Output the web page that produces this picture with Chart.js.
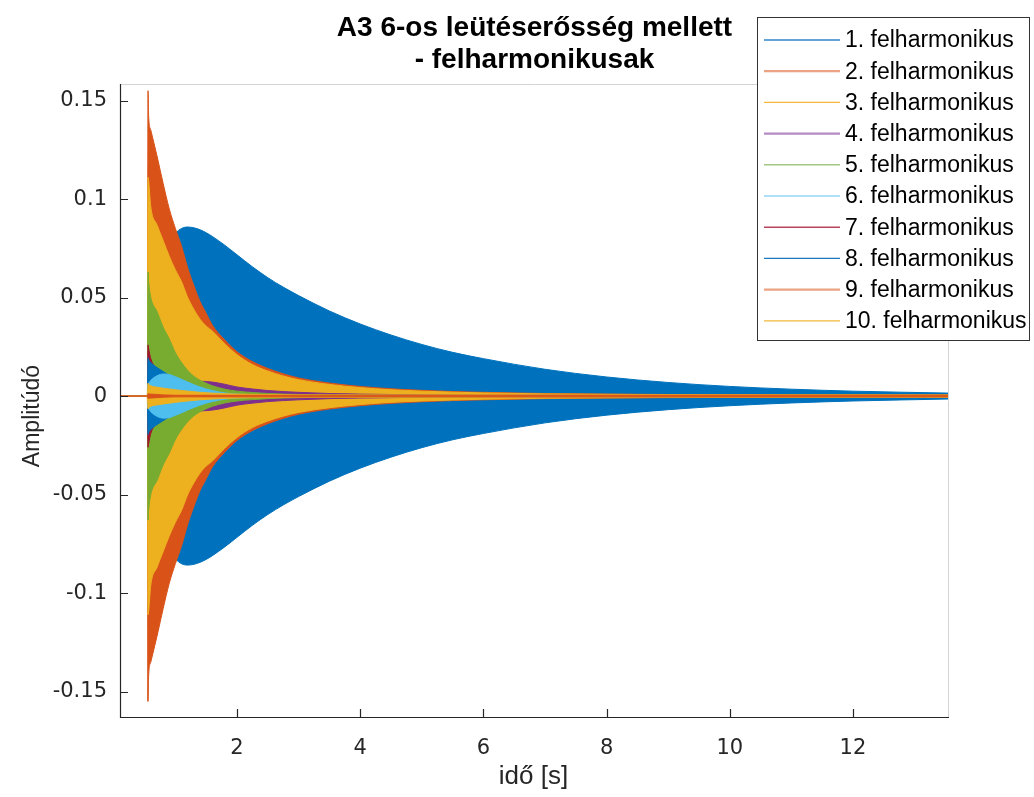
<!DOCTYPE html>
<html><head><meta charset="utf-8">
<script src="https://cdn.jsdelivr.net/npm/chart.js@4.4.1/dist/chart.umd.min.js"></script>
<style>html,body{margin:0;padding:0;background:#fff;overflow:hidden}canvas{display:block}</style>
</head><body>
<canvas id="c" width="1034" height="797"></canvas>
<script>
// time samples (s)
const timeS = [0.1, 0.545, 0.555, 0.565, 0.6, 0.7, 0.8, 0.9, 1.0, 1.1, 1.2, 1.3, 1.4, 1.5, 1.6, 1.8, 2.0, 2.25, 2.5, 2.75, 3.0, 3.5, 4.0, 4.5, 5.0, 5.5, 6.0, 7.0, 8.0, 9.0, 10.0, 11.0, 12.0, 13.56];
// envelope amplitudes of each harmonic
const amp1  = [0, 0, 0.012, 0.016, 0.03, 0.05, 0.066, 0.077, 0.0825, 0.0851, 0.0858, 0.0854, 0.0844, 0.0829, 0.081, 0.0766, 0.0717, 0.0656, 0.0601, 0.0553, 0.051, 0.0432, 0.0366, 0.031, 0.0262, 0.0222, 0.019, 0.0136, 0.0097, 0.0069, 0.0049, 0.0035, 0.0025, 0.0015];
const amp2  = [0, 0, 0.155, 0.142, 0.135, 0.122, 0.108, 0.095, 0.085, 0.076, 0.065, 0.056, 0.048, 0.042, 0.036, 0.0285, 0.0225, 0.0175, 0.014, 0.0113, 0.0092, 0.0066, 0.0049, 0.0037, 0.0029, 0.0023, 0.0019, 0.0013, 0.001, 0.0008, 0.0007, 0.0006, 0.0006, 0.0005];
const amp3  = [0, 0, 0.111, 0.109, 0.096, 0.087, 0.079, 0.071, 0.064, 0.058, 0.05, 0.044, 0.039, 0.0355, 0.033, 0.0265, 0.021, 0.016, 0.0127, 0.0102, 0.0083, 0.0059, 0.0043, 0.0032, 0.0025, 0.002, 0.0016, 0.0011, 0.0009, 0.0007, 0.0006, 0.0005, 0.0005, 0.0004];
const amp4  = [0, 0, 0.002, 0.0025, 0.003, 0.004, 0.0048, 0.0055, 0.006, 0.0065, 0.0069, 0.0072, 0.0075, 0.0074, 0.0071, 0.006, 0.0046, 0.0036, 0.0028, 0.0023, 0.0019, 0.0013, 0.001, 0.0008, 0.0006, 0.0005, 0.0004, 0.0004, 0.0003, 0.0003, 0.0003, 0.0003, 0.0003, 0.0003];
const amp5  = [0, 0, 0.063, 0.058, 0.05, 0.043, 0.035, 0.029, 0.022, 0.017, 0.013, 0.01, 0.008, 0.0065, 0.0052, 0.0035, 0.0025, 0.0018, 0.0013, 0.001, 0.0008, 0.0006, 0.0005, 0.0004, 0.0003, 0.0003, 0.0003, 0.0003, 0.0003, 0.0003, 0.0003, 0.0003, 0.0003, 0.0003];
const amp6  = [0, 0, 0.006, 0.0065, 0.008, 0.0103, 0.0112, 0.011, 0.0098, 0.0085, 0.0071, 0.0058, 0.0046, 0.0036, 0.0028, 0.0016, 0.001, 0.0007, 0.0005, 0.0004, 0.0003, 0.0003, 0.0003, 0.0003, 0.0003, 0.0003, 0.0003, 0.0003, 0.0003, 0.0003, 0.0003, 0.0003, 0.0003, 0.0003];
const amp7  = [0, 0, 0.026, 0.024, 0.019, 0.013, 0.009, 0.006, 0.0042, 0.003, 0.0022, 0.0017, 0.0013, 0.001, 0.0008, 0.0006, 0.0005, 0.0004, 0.0003, 0.0003, 0.0003, 0.0003, 0.0003, 0.0003, 0.0003, 0.0003, 0.0003, 0.0003, 0.0003, 0.0003, 0.0003, 0.0003, 0.0003, 0.0003];
const amp8  = [0, 0, 0.0195, 0.0185, 0.017, 0.0145, 0.0125, 0.0105, 0.0085, 0.0065, 0.005, 0.0038, 0.0028, 0.0021, 0.0016, 0.001, 0.0007, 0.0005, 0.0004, 0.0003, 0.0003, 0.0003, 0.0003, 0.0003, 0.0003, 0.0003, 0.0003, 0.0003, 0.0003, 0.0003, 0.0003, 0.0003, 0.0003, 0.0003];
const amp9  = [0, 0, 0.0012, 0.0011, 0.001, 0.0008, 0.0006, 0.0005, 0.0004, 0.0004, 0.0004, 0.0004, 0.0004, 0.0004, 0.0004, 0.0004, 0.0004, 0.0004, 0.0004, 0.0004, 0.0004, 0.0004, 0.0004, 0.0004, 0.0004, 0.0004, 0.0004, 0.0004, 0.0004, 0.0004, 0.0004, 0.0004, 0.0004, 0.0004];
const amp10 = [0, 0, 0.0065, 0.006, 0.0052, 0.0045, 0.004, 0.0036, 0.0032, 0.0028, 0.0025, 0.0022, 0.0019, 0.0017, 0.0015, 0.0012, 0.001, 0.0009, 0.0008, 0.0007, 0.0006, 0.0006, 0.0006, 0.0006, 0.0006, 0.0006, 0.0006, 0.0006, 0.0006, 0.0006, 0.0006, 0.0006, 0.0006, 0.0006];

const seriesLabels = ['1. felharmonikus','2. felharmonikus','3. felharmonikus','4. felharmonikus','5. felharmonikus','6. felharmonikus','7. felharmonikus','8. felharmonikus','9. felharmonikus','10. felharmonikus'];
const seriesColors = ['#0072BD','#D95319','#EDB120','#7E2F8E','#77AC30','#4DBEEE','#A2142F','#0072BD','#D95319','#EDB120'];
const legendLineColors = ['#2F86C8','#EBA383','#F2BA38','#B48BC3','#A2C884','#95D6F4','#B8455C','#1B78BF','#EBA383','#F2BA38'];
const legendLineWidths = [1.3, 2.2, 1.3, 2.2, 1.6, 1.6, 1.6, 1.3, 2.2, 1.3];
const drawOrder = [1,2,3,4,5,7,8,6,10,9]; // bottom -> top

const xTickValues = [2,4,6,8,10,12];
const yTickValues = [-0.15,-0.1,-0.05,0,0.05,0.1,0.15];
const yTickLabels = ['-0.15','-0.1','-0.05','0','0.05','0.1','0.15'];
const titleLines = ['A3 6-os leütéserősség mellett','- felharmonikusak'];
const xTitle = 'idő [s]';
const yTitle = 'Amplitúdó';

const amps = [amp1,amp2,amp3,amp4,amp5,amp6,amp7,amp8,amp9,amp10];

const datasets = [];
drawOrder.slice().reverse().forEach(k => {
  const a = amps[k-1], col = seriesColors[k-1];
  const common = {borderColor: col, backgroundColor: col, borderWidth: 1, pointRadius: 0,
                  cubicInterpolationMode: 'monotone'};
  datasets.push(Object.assign({label: seriesLabels[k-1], data: timeS.map((t,i)=>({x:t, y:a[i]})), fill: '+1'}, common));
  datasets.push(Object.assign({label: seriesLabels[k-1] + ' (-)', data: timeS.map((t,i)=>({x:t, y:-a[i]})), fill: false}, common));
});

const decor = {
  id: 'decor',
  afterDraw(chart) {
    const ctx = chart.ctx, ca = chart.chartArea;
    const xs = chart.scales.x, ys = chart.scales.y;
    ctx.save();
    // box (top/right light)
    ctx.strokeStyle = '#d4d4d4'; ctx.lineWidth = 1;
    ctx.beginPath();
    ctx.moveTo(ca.left, Math.round(ca.top)+0.5); ctx.lineTo(ca.right, Math.round(ca.top)+0.5);
    ctx.moveTo(Math.round(ca.right)-0.5, ca.top); ctx.lineTo(Math.round(ca.right)-0.5, ca.bottom);
    ctx.stroke();
    // left & bottom axes
    ctx.strokeStyle = '#262626'; ctx.lineWidth = 1.2;
    ctx.beginPath();
    ctx.moveTo(ca.left+0.5, ca.top); ctx.lineTo(ca.left+0.5, ca.bottom+0.5);
    ctx.lineTo(ca.right, ca.bottom+0.5);
    // inward ticks
    xTickValues.forEach(v => { const px = Math.round(xs.getPixelForValue(v))+0.5; ctx.moveTo(px, ca.bottom); ctx.lineTo(px, ca.bottom-8); });
    yTickValues.forEach(v => { const py = Math.round(ys.getPixelForValue(v))+0.5; ctx.moveTo(ca.left, py); ctx.lineTo(ca.left+8, py); });
    ctx.stroke();
    // title
    ctx.fillStyle = '#000';
    ctx.font = 'bold 28px "Liberation Sans", Arial, sans-serif';
    ctx.textAlign = 'center'; ctx.textBaseline = 'middle';
    const cx = (ca.left + ca.right)/2;
    ctx.fillText(titleLines[0], cx, 28);
    ctx.fillText(titleLines[1], cx, 60);
    // axis titles
    ctx.fillStyle = '#262626';
    ctx.font = '26px "Liberation Sans", Arial, sans-serif';
    ctx.fillText(xTitle, cx - 1, 777);
    ctx.save();
    ctx.translate(33, 416); ctx.rotate(-Math.PI/2);
    ctx.font = '23px "Liberation Sans", Arial, sans-serif';
    ctx.fillText(yTitle, 0, 0);
    ctx.restore();
    // legend
    const lx = 757.5, ly = 17.5, lw = 272, lh = 323;
    ctx.fillStyle = '#fff'; ctx.fillRect(lx, ly, lw, lh);
    ctx.strokeStyle = '#333'; ctx.lineWidth = 1; ctx.strokeRect(lx, ly, lw, lh);
    ctx.font = '23px "Liberation Sans", Arial, sans-serif';
    ctx.textAlign = 'left'; ctx.textBaseline = 'middle';
    seriesLabels.forEach((lab, i) => {
      const y = 40 + i*31.2;
      ctx.strokeStyle = legendLineColors[i]; ctx.lineWidth = legendLineWidths[i];
      ctx.beginPath(); ctx.moveTo(764, y); ctx.lineTo(840, y); ctx.stroke();
      ctx.fillStyle = '#000';
      ctx.fillText(lab, 845, y+1);
    });
    ctx.restore();
  }
};

new Chart(document.getElementById('c'), {
  type: 'line',
  data: {datasets},
  plugins: [decor],
  options: {
    responsive: false, animation: false, devicePixelRatio: 1,
    normalized: true,
    layout: {padding: {left: 0, right: 85, top: 84, bottom: 0}},
    plugins: {legend: {display: false}, tooltip: {enabled: false}, title: {display: false},
              filler: {propagate: false}},
    scales: {
      x: {type: 'linear', min: 0.1, max: 13.56,
          grid: {display: false, drawTicks: false}, border: {display: false},
          afterBuildTicks: s => { s.ticks = xTickValues.map(v => ({value: v})); },
          afterFit: s => { s.height = 80; },
          ticks: {padding: 19, autoSkip: false, maxRotation: 0, color: '#262626',
                  font: {family: '"DejaVu Sans"', size: 21}, callback: v => String(v)}},
      y: {type: 'linear', min: -0.1629, max: 0.1584,
          grid: {display: false, drawTicks: false}, border: {display: false},
          afterBuildTicks: s => { s.ticks = yTickValues.map(v => ({value: v})); },
          afterFit: s => { s.width = 120; },
          ticks: {padding: 13, autoSkip: false, color: '#262626',
                  font: {family: '"DejaVu Sans"', size: 21}, callback: (v, i) => yTickLabels[i]}}
    }
  }
});
</script>
</body></html>
